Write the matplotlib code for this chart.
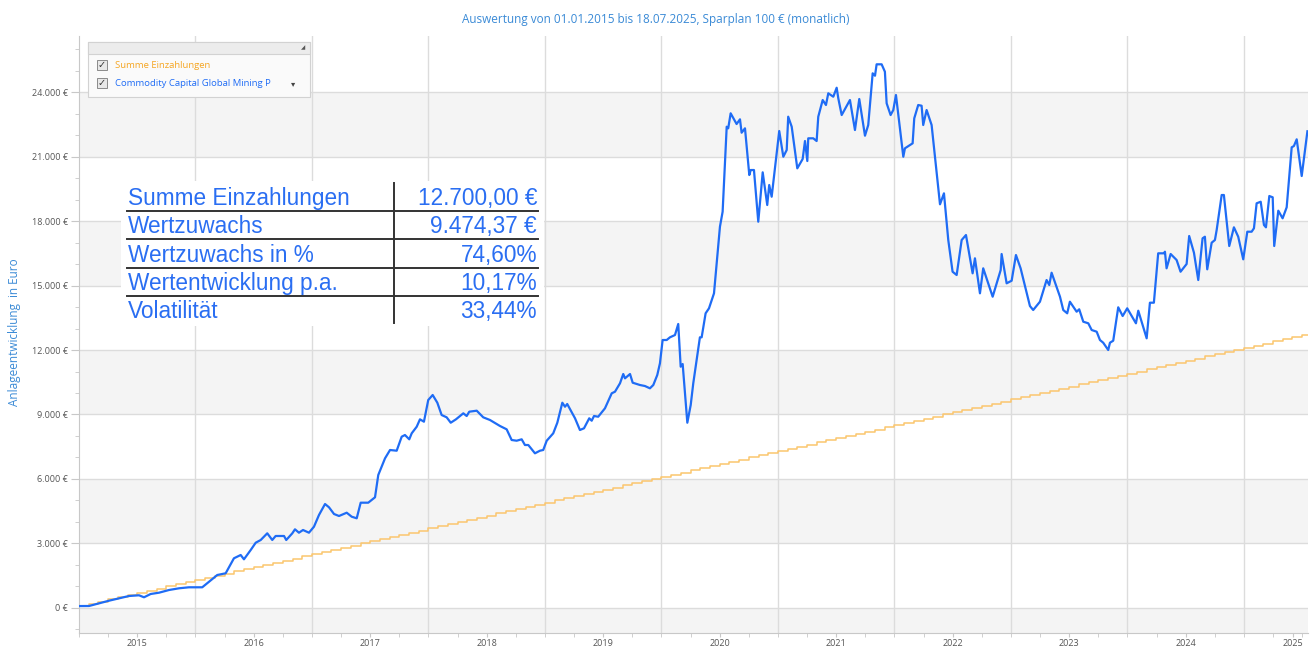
import numpy as np
import matplotlib
matplotlib.use("Agg")
import matplotlib.pyplot as plt
from matplotlib.patches import Rectangle
from matplotlib.ticker import FixedLocator, MultipleLocator, FuncFormatter

# Sparplan: 100 EUR jeden Monat, 01/2015 bis 07/2025
einzahlungen_monatlich = [100] * 127
einzahlung_start = 2015.0

# Depotwert Commodity Capital Global Mining P (Jahr als Dezimalzahl)
fonds_jahr = [
    2015.000, 2015.086, 2015.172, 2015.258, 2015.343, 2015.429, 2015.515, 2015.558, 2015.615, 2015.687,
    2015.773, 2015.858, 2015.944, 2016.058, 2016.116, 2016.187, 2016.259, 2016.330, 2016.388, 2016.416,
    2016.474, 2016.517, 2016.560, 2016.616, 2016.659, 2016.688, 2016.760, 2016.779, 2016.831, 2016.854,
    2016.888, 2016.923, 2016.974, 2017.017, 2017.060, 2017.112, 2017.146, 2017.189, 2017.232, 2017.298,
    2017.341, 2017.384, 2017.418, 2017.483, 2017.541, 2017.569, 2017.627, 2017.670, 2017.727, 2017.770,
    2017.798, 2017.835, 2017.856, 2017.899, 2017.927, 2017.961, 2017.998, 2018.036, 2018.076, 2018.113,
    2018.156, 2018.191, 2018.236, 2018.299, 2018.328, 2018.350, 2018.414, 2018.470, 2018.528, 2018.614,
    2018.671, 2018.714, 2018.757, 2018.800, 2018.828, 2018.857, 2018.914, 2018.957, 2018.985, 2019.015,
    2019.071, 2019.106, 2019.149, 2019.172, 2019.191, 2019.258, 2019.300, 2019.335, 2019.380, 2019.401,
    2019.421, 2019.457, 2019.515, 2019.573, 2019.601, 2019.644, 2019.672, 2019.687, 2019.730, 2019.753,
    2019.815, 2019.858, 2019.901, 2019.930, 2019.964, 2019.987, 2020.010, 2020.045, 2020.073, 2020.116,
    2020.144, 2020.165, 2020.182, 2020.222, 2020.251, 2020.273, 2020.330, 2020.345, 2020.379, 2020.408,
    2020.451, 2020.502, 2020.525, 2020.560, 2020.573, 2020.594, 2020.645, 2020.674, 2020.688, 2020.717,
    2020.754, 2020.766, 2020.794, 2020.831, 2020.869, 2020.908, 2020.925, 2020.946, 2021.011, 2021.046,
    2021.075, 2021.088, 2021.118, 2021.166, 2021.212, 2021.232, 2021.252, 2021.260, 2021.303, 2021.332,
    2021.346, 2021.384, 2021.412, 2021.432, 2021.475, 2021.504, 2021.518, 2021.547, 2021.618, 2021.661,
    2021.698, 2021.747, 2021.775, 2021.813, 2021.833, 2021.847, 2021.890, 2021.918, 2021.933, 2021.967,
    2021.990, 2022.013, 2022.076, 2022.090, 2022.156, 2022.170, 2022.204, 2022.233, 2022.247, 2022.276,
    2022.319, 2022.391, 2022.425, 2022.462, 2022.499, 2022.534, 2022.577, 2022.614, 2022.671, 2022.691,
    2022.734, 2022.762, 2022.843, 2022.912, 2022.920, 2022.963, 2023.006, 2023.043, 2023.083, 2023.163,
    2023.191, 2023.249, 2023.306, 2023.329, 2023.349, 2023.421, 2023.449, 2023.483, 2023.506, 2023.564,
    2023.586, 2023.621, 2023.664, 2023.693, 2023.736, 2023.764, 2023.792, 2023.835, 2023.850, 2023.878,
    2023.921, 2023.959, 2023.998, 2024.073, 2024.093, 2024.165, 2024.193, 2024.227, 2024.264, 2024.313,
    2024.322, 2024.336, 2024.371, 2024.422, 2024.456, 2024.508, 2024.530, 2024.571, 2024.608, 2024.645,
    2024.665, 2024.685, 2024.723, 2024.751, 2024.766, 2024.809, 2024.828, 2024.874, 2024.914, 2024.951,
    2024.994, 2025.029, 2025.066, 2025.086, 2025.109, 2025.144, 2025.172, 2025.189, 2025.218, 2025.247,
    2025.260, 2025.295, 2025.332, 2025.367, 2025.410, 2025.429, 2025.453, 2025.496, 2025.545,
]
fonds_wert = [
    90, 93, 219, 340, 451, 558, 591, 498, 651, 712,
    837, 916, 963, 963, 1223, 1535, 1614, 2312, 2465, 2265,
    2698, 3037, 3163, 3474, 3163, 3349, 3349, 3163, 3474, 3660,
    3502, 3628, 3502, 3781, 4325, 4837, 4684, 4372, 4279, 4432,
    4246, 4172, 4898, 4898, 5149, 6186, 6962, 7349, 7316, 7967,
    8046, 7846, 8125, 8432, 8776, 8665, 9674, 9907, 9548, 8976,
    8869, 8618, 8776, 9055, 8930, 9130, 9177, 8869, 8744, 8465,
    8311, 7814, 7781, 7846, 7581, 7581, 7195, 7316, 7349, 7781,
    8125, 8618, 9548, 9362, 9488, 8823, 8279, 8358, 8823, 8711,
    8930, 8897, 9288, 9986, 10060, 10451, 10883, 10683, 10883, 10479,
    10372, 10325, 10218, 10372, 10837, 11381, 12465, 12465, 12590, 12697,
    13209, 11223, 11348, 8618, 9441, 10451, 12590, 12590, 13707, 13939,
    14637, 17734, 18432, 22386, 22311, 23009, 22511, 22730, 22107, 22311,
    20139, 20371, 20371, 17967, 20264, 18744, 19674, 19130, 22185, 20990,
    21302, 22851, 22386, 20450, 20883, 21720, 20790, 21846, 21846, 21720,
    22851, 23627, 23395, 23939, 23781, 24199, 23706, 22929, 23627, 22232,
    23674, 21967, 22465, 24869, 24757, 25288, 25288, 24944, 23474, 22929,
    23162, 23860, 20990, 21381, 21613, 22776, 23395, 23362, 22465, 23162,
    22465, 18776, 19288, 17116, 15641, 15488, 17116, 17348, 15567, 16265,
    14637, 15800, 14479, 15720, 16465, 15102, 15223, 16418, 15800, 14046,
    13860, 14246, 15255, 15023, 15595, 14479, 13860, 13707, 14246, 13781,
    13893, 13316, 13242, 12930, 12851, 12465, 12339, 12000, 12339, 12432,
    13986, 13581, 13939, 13242, 13828, 12544, 14200, 14200, 16497, 16497,
    16572, 15800, 16465, 16186, 15641, 16000, 17302, 16525, 15255, 17195,
    17269, 15753, 16990, 17116, 17581, 19209, 19209, 16837, 17706, 17269,
    16218, 17502, 17502, 17660, 18823, 18897, 17813, 17706, 19162, 19102,
    16837, 18479, 18125, 18637, 21427, 21488, 21800, 20093, 22174,
]

jahre = list(range(2015, 2026))
kennzahl_namen = ["Summe Einzahlungen", "Wertzuwachs", "Wertzuwachs in %",
                  "Wertentwicklung p.a.", "Volatilität"]
kennzahl_werte = ["12.700,00 €", "9.474,37 €", "74,60%", "10,17%", "33,44%"]

titel = "Auswertung von 01.01.2015 bis 18.07.2025, Sparplan 100 € (monatlich)"
blau = "#1f6cf5"
orange = "#fbc66e"
titel_blau = "#3a8ad6"

plt.rcParams["font.family"] = ["Open Sans", "DejaVu Sans"]

fig = plt.figure(figsize=(13.14, 6.48), dpi=100)
W, H = 1314, 648
ax = fig.add_axes([79 / W, 1 - 633 / H, 1229 / W, 597 / H])

x_end = 2025.55
ax.set_xlim(einzahlung_start, x_end)
ax.set_ylim(-1163, 26605)

# graue und weisse Baender zwischen den Gitterlinien
stufen = np.arange(-3000, 27001, 3000)
for i in range(len(stufen) - 1):
    if i % 2 == 0:
        ax.axhspan(stufen[i], stufen[i + 1], color="#f4f4f4", lw=0, zorder=0)
for s in stufen:
    ax.axhline(s, color="#dcdcdc", lw=1, zorder=1)
for j in jahre[1:]:
    ax.axvline(j, color="#dcdcdc", lw=1, zorder=1)

# Summe Einzahlungen als Treppe
einz_x = einzahlung_start + np.arange(len(einzahlungen_monatlich)) / 12
einz_y = np.cumsum(einzahlungen_monatlich)
einz_x = np.append(einz_x, x_end)
einz_y = np.append(einz_y, einz_y[-1])
ax.plot(einz_x, einz_y, drawstyle="steps-post", color=orange, lw=1.1, zorder=3)

ax.plot(fonds_jahr, fonds_wert, color=blau, lw=1.6, zorder=4)

# Achsen
for sp in ["top", "right"]:
    ax.spines[sp].set_visible(False)
for sp in ["left", "bottom"]:
    ax.spines[sp].set_color("#c8c8c8")

ax.yaxis.set_major_locator(MultipleLocator(3000))
ax.yaxis.set_minor_locator(MultipleLocator(1000))
ax.yaxis.set_major_formatter(FuncFormatter(lambda v, p: f"{int(v):,} €".replace(",", ".")))
label_pos = [j + 0.5 for j in jahre[:-1]] + [2025.42]
ax.xaxis.set_major_locator(FixedLocator(label_pos))
ax.set_xticklabels([str(j) for j in jahre])
ax.xaxis.set_minor_locator(MultipleLocator(0.25))
ax.tick_params(axis="both", which="major", colors="#c8c8c8", labelcolor="#555555",
               labelsize=6.5)
ax.tick_params(axis="y", which="major", length=6, pad=2)
ax.tick_params(axis="y", which="minor", length=3, colors="#c8c8c8")
ax.tick_params(axis="x", which="major", length=3, pad=1)
ax.tick_params(axis="x", which="minor", length=3, colors="#c8c8c8")

fig.text(656 / W, 1 - 19 / H, titel, ha="center", va="center", fontsize=8.5, color=titel_blau)
fig.text(15 / W, 1 - 332 / H, "Anlageentwicklung  in Euro", rotation=90, ha="center",
         va="center", fontsize=8.5, color=titel_blau)

# Legende wie im Original (Kasten mit Kopfleiste)
def px_rect(x0, y0, x1, y1, **kw):
    fig.add_artist(Rectangle((x0 / W, 1 - y1 / H), (x1 - x0) / W, (y1 - y0) / H,
                             transform=fig.transFigure, **kw))

px_rect(88, 42, 310, 97, facecolor="#fafafa", edgecolor="#d2d2d2", lw=0.8, zorder=5)
px_rect(88, 42, 310, 54, facecolor="#ececec", edgecolor="#d2d2d2", lw=0.8, zorder=5)
fig.text(303 / W, 1 - 48 / H, "◢", fontsize=4, color="#555555", ha="center", va="center",
         family=["DejaVu Sans"], zorder=6)
legende = [("Summe Einzahlungen", "#f5a623", 65), ("Commodity Capital Global Mining P", blau, 83)]
for text, farbe, yy in legende:
    px_rect(97, yy - 5, 107, yy + 5, facecolor="#e8e8e8", edgecolor="#8a8a8a", lw=0.7, zorder=6)
    fig.text(102 / W, 1 - yy / H, "✓", fontsize=7, color="#333333", ha="center", va="center",
             family=["DejaVu Sans"], zorder=7)
    fig.text(115 / W, 1 - yy / H, text, fontsize=6.8, color=farbe, ha="left", va="center", zorder=7)
fig.text(293 / W, 1 - 84 / H, "▾", fontsize=6, color="#444444", ha="center", va="center",
         family=["DejaVu Sans"], zorder=7)

# Kennzahlen-Tabelle
px_rect(121, 181, 544, 326, facecolor="white", edgecolor="none", zorder=5)
zeile_y = [198, 226.5, 255, 283.5, 312]
for i, (name, wert) in enumerate(zip(kennzahl_namen, kennzahl_werte)):
    yy = 1 - zeile_y[i] / H
    fig.text(128 / W, yy, name, fontsize=16.3, color="#2a6ef2", ha="left", va="center",
             family=["Liberation Sans"], zorder=6)
    fig.text(537 / W, yy, wert, fontsize=16.3, color="#2a6ef2", ha="right", va="center",
             family=["Liberation Sans"], zorder=6)
for ly in [211.5, 239.5, 267.5, 296]:
    fig.add_artist(plt.Line2D([127 / W, 538 / W], [1 - ly / H, 1 - ly / H], color="#333333",
                              lw=1.4, transform=fig.transFigure, zorder=6))
fig.add_artist(plt.Line2D([394 / W, 394 / W], [1 - 183 / H, 1 - 323 / H], color="#333333",
                          lw=1.4, transform=fig.transFigure, zorder=6))

fig.savefig("out.png", dpi=100)
